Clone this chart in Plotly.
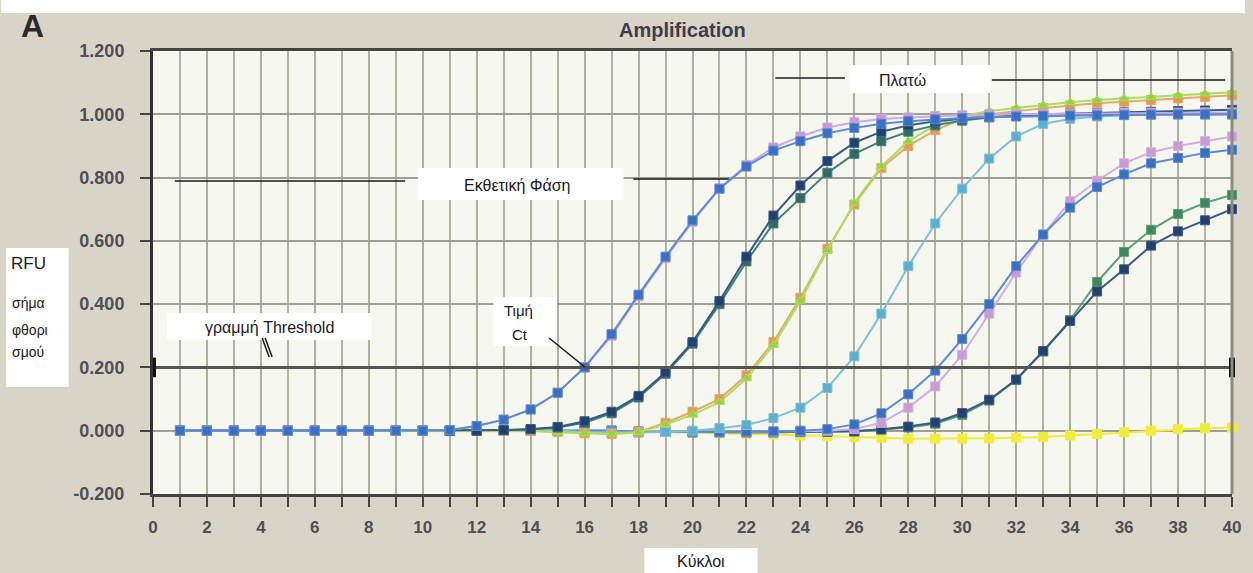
import plotly.graph_objects as go

cycles = list(range(1, 41))

blue_a = [0, 0, 0, 0, 0, 0, 0, 0, 0, 0, 0.002, 0.015, 0.035, 0.067, 0.12, 0.2, 0.305, 0.43, 0.55, 0.665,
          0.765, 0.835, 0.885, 0.915, 0.94, 0.957, 0.97, 0.978, 0.984, 0.988, 0.991, 0.993, 0.995, 0.996, 0.997,
          0.998, 0.999, 1.0, 1.0, 1.0]
pink_a = [0, 0, 0, 0, 0, 0, 0, 0, 0, 0, 0.002, 0.015, 0.035, 0.068, 0.12, 0.2, 0.3, 0.425, 0.545, 0.66,
          0.765, 0.84, 0.895, 0.93, 0.958, 0.975, 0.985, 0.99, 0.994, 0.997, 0.999, 1.0, 1.001, 1.002, 1.003,
          1.004, 1.005, 1.005, 1.006, 1.006]
navy_b = [0, 0, 0, 0, 0, 0, 0, 0, 0, 0, 0, 0, 0.002, 0.005, 0.012, 0.03, 0.06, 0.11, 0.185, 0.28,
          0.41, 0.55, 0.68, 0.775, 0.852, 0.91, 0.945, 0.965, 0.978, 0.986, 0.992, 0.996, 1.0, 1.002, 1.004,
          1.006, 1.008, 1.01, 1.012, 1.014]
teal_b = [0, 0, 0, 0, 0, 0, 0, 0, 0, 0, 0, 0, 0.002, 0.005, 0.01, 0.025, 0.055, 0.105, 0.18, 0.275,
          0.4, 0.535, 0.655, 0.735, 0.815, 0.875, 0.915, 0.945, 0.965, 0.98, 0.99, 0.995, 0.998, 1.0, 1.0,
          1.0, 1.0, 1.0, 1.0, 1.0]
lime_c = [0, 0, 0, 0, 0, 0, 0, 0, 0, 0, 0, 0, 0, 0, -0.004, -0.008, -0.01, -0.005, 0.02, 0.05,
          0.09, 0.165, 0.27, 0.41, 0.57, 0.72, 0.835, 0.915, 0.965, 0.995, 1.01, 1.02, 1.03, 1.038, 1.045,
          1.05, 1.055, 1.06, 1.065, 1.07]
orange_c = [0, 0, 0, 0, 0, 0, 0, 0, 0, 0, 0, 0, 0, 0, -0.004, -0.008, -0.01, -0.005, 0.025, 0.06,
            0.1, 0.175, 0.28, 0.42, 0.575, 0.715, 0.83, 0.9, 0.95, 0.985, 1.0, 1.01, 1.02, 1.028, 1.035,
            1.04, 1.045, 1.05, 1.055, 1.06]
cyan_d = [0, 0, 0, 0, 0, 0, 0, 0, 0, 0, 0, 0, 0, 0, 0, -0.004, -0.006, -0.006, -0.004, 0.0,
          0.008, 0.018, 0.04, 0.073, 0.135, 0.235, 0.37, 0.52, 0.655, 0.765, 0.86, 0.93, 0.97, 0.985, 0.993,
          0.997, 1.0, 1.0, 1.0, 1.0]
blue_e = [0, 0, 0, 0, 0, 0, 0, 0, 0, 0, 0, 0, 0, 0, 0, 0, 0, -0.003, -0.004, -0.004,
          -0.004, -0.003, -0.002, 0.0, 0.005, 0.02, 0.055, 0.115, 0.19, 0.29, 0.4, 0.52, 0.62, 0.705, 0.77,
          0.81, 0.845, 0.862, 0.878, 0.888]
pink_e = [0, 0, 0, 0, 0, 0, 0, 0, 0, 0, 0, 0, 0, 0, 0, 0, 0, -0.003, -0.004, -0.004,
          -0.004, -0.003, -0.003, -0.002, 0.0, 0.005, 0.025, 0.073, 0.14, 0.24, 0.37, 0.5, 0.62, 0.725, 0.79,
          0.845, 0.88, 0.9, 0.915, 0.93]
navy_f = [0, 0, 0, 0, 0, 0, 0, 0, 0, 0, 0, 0, 0, 0, 0, 0, 0, -0.003, -0.004, -0.005,
          -0.005, -0.005, -0.005, -0.004, -0.003, -0.002, 0.005, 0.013, 0.026, 0.056, 0.098, 0.162, 0.252,
          0.347, 0.44, 0.51, 0.585, 0.63, 0.665, 0.7]
green_f = [0, 0, 0, 0, 0, 0, 0, 0, 0, 0, 0, 0, 0, 0, 0, 0, 0, -0.003, -0.004, -0.005,
           -0.005, -0.005, -0.005, -0.004, -0.003, -0.002, 0.003, 0.01, 0.022, 0.05, 0.095, 0.16, 0.25,
           0.35, 0.47, 0.565, 0.635, 0.685, 0.72, 0.745]
yellow_g = [0, 0, 0, 0, 0, 0, 0, 0, 0, 0, 0, 0, 0, 0, 0, 0, 0, -0.002, -0.004, -0.005,
            -0.008, -0.01, -0.012, -0.015, -0.017, -0.02, -0.022, -0.025, -0.025, -0.025, -0.024, -0.022,
            -0.02, -0.015, -0.01, -0.005, 0.0, 0.005, 0.008, 0.01]

threshold = 0.2
y_tick_vals = [-0.2, 0.0, 0.2, 0.4, 0.6, 0.8, 1.0, 1.2]
y_tick_text = ["-0.200", "0.000", "0.200", "0.400", "0.600", "0.800", "1.000", "1.200"]
x_tick_vals = list(range(0, 41, 2))
x_tick_text = [str(v) for v in x_tick_vals]

series = [
    (yellow_g, "#f2ec3c", "#f2ec3c", "square"),
    (green_f, "#3d8a5e", "#5aa07a", "square"),
    (navy_f, "#22416f", "#3a5a86", "square"),
    (pink_e, "#c99ad6", "#d4aee0", "square"),
    (blue_e, "#3a6fc2", "#5a8cd6", "square"),
    (cyan_d, "#5eaecf", "#7cc0da", "square"),
    (orange_c, "#e39a52", "#e8a866", "square"),
    (lime_c, "#8fd63a", "#a6e060", "triangle-up"),
    (teal_b, "#2f6b62", "#44807a", "square"),
    (navy_b, "#20406f", "#365a88", "square"),
    (pink_a, "#c598d6", "#d0a8e0", "square"),
    (blue_a, "#3a6fc4", "#5a8ad8", "square"),
]

fig = go.Figure()
for vals, mcol, lcol, sym in series:
    fig.add_trace(go.Scatter(
        x=cycles, y=vals, mode="lines+markers",
        line=dict(color=lcol, width=2),
        marker=dict(color=mcol, size=9, symbol=sym, line=dict(color=lcol, width=1)),
        hoverinfo="skip", showlegend=False, cliponaxis=False,
    ))

# threshold line and end markers
fig.add_trace(go.Scatter(
    x=[0, 40], y=[threshold, threshold], mode="lines+markers",
    line=dict(color="#555555", width=3),
    marker=dict(symbol="line-ns", size=14, line=dict(color="#111111", width=6)),
    hoverinfo="skip", showlegend=False, cliponaxis=False,
))

W, H = 1253, 573
L, R, T, B = 153, 1240, 51, 494


def px(x):
    return (x - L) / (R - L)


def py(y):
    return (B - y) / (B - T)


shapes = []
# top white strip
shapes.append(dict(type="rect", xref="paper", yref="paper", x0=px(0), x1=px(W), y0=py(0), y1=py(13),
                   fillcolor="white", line=dict(width=0), layer="above"))
# right border of plot
shapes.append(dict(type="line", xref="paper", yref="paper", x0=1, x1=1, y0=0, y1=1,
                   line=dict(color="#8c8c84", width=3), layer="above"))

boxes = [
    (855, 997, 65, 93),
    (420, 627, 168, 200),
    (496, 560, 297, 346),
    (167, 373, 313, 340),
    (5, 68, 248, 387),
    (648, 762, 548, 573),
]
for x0, x1, y0, y1 in boxes:
    shapes.append(dict(type="rect", xref="paper", yref="paper", x0=px(x0), x1=px(x1), y0=py(y1), y1=py(y0),
                       fillcolor="white", line=dict(width=0), layer="above"))

lines = [
    (780, 78, 850, 78),
    (998, 80, 1233, 80),
    (175, 181, 407, 181),
    (637, 179, 733, 179),
    (263, 338, 270, 357),
    (266, 338, 273, 357),
    (552, 338, 588, 367),
]
for x0, y0, x1, y1 in lines:
    shapes.append(dict(type="line", xref="paper", yref="paper", x0=px(x0), x1=px(x1), y0=py(y0), y1=py(y1),
                       line=dict(color="#1a1a1a", width=1.5), layer="above"))

font = "Liberation Sans, Arial, sans-serif"
anns = []


def add_text(text, x, y, size, color="#1a1a1a", bold=False, xanchor="center"):
    anns.append(dict(text=text, xref="paper", yref="paper", x=px(x), y=py(y), showarrow=False,
                     xanchor=xanchor, yanchor="middle",
                     font=dict(family=font, size=size, color=color, weight="bold" if bold else "normal")))


add_text("A", 32, 26, 32, "#2b2b2b", True)
add_text("Amplification", 686, 30, 20, "#3d3d4e", True)
add_text("Πλατώ", 908, 80, 16)
add_text("Εκθετική Φάση", 520, 185, 16)
add_text("Τιμή", 521, 310, 15)
add_text("Ct", 523, 334, 15)
add_text("γραμμή Threshold", 270, 327, 16)
add_text("RFU", 8, 263, 17, xanchor="left")
add_text("σήμα", 9, 303, 14, xanchor="left")
add_text("φθορι", 9, 330, 14, xanchor="left")
add_text("σμού", 9, 352, 14, xanchor="left")
add_text("Κύκλοι", 705, 561, 16)

fig.update_layout(
    width=W, height=H,
    margin=dict(l=L, r=W - R, t=T, b=H - B, pad=0),
    paper_bgcolor="#d8d5c8",
    plot_bgcolor="#f6f7ef",
    shapes=shapes,
    annotations=anns,
    showlegend=False,
)

fig.update_xaxes(
    range=[0, 40], tickvals=x_tick_vals, ticktext=x_tick_text,
    showgrid=True, gridcolor="#aab09a", gridwidth=1.5,
    minor=dict(dtick=1, showgrid=True, gridcolor="#b0b4a0", gridwidth=1.5,
               ticks="outside", ticklen=10, tickcolor="#444444", tickwidth=2),
    ticks="outside", ticklen=10, tickcolor="#444444", tickwidth=2,
    showline=True, linecolor="#444444", linewidth=2.5, mirror=True,
    zeroline=False, ticklabelstandoff=6,
    tickfont=dict(family=font, size=17, color="#4e4e58", weight="bold"),
)
fig.update_yaxes(
    range=[-0.2, 1.2], tickvals=y_tick_vals, ticktext=y_tick_text,
    showgrid=True, gridcolor="#9e9e96", gridwidth=1.5,
    ticks="outside", ticklen=10, tickcolor="#444444", tickwidth=2,
    showline=True, linecolor="#333333", linewidth=3,
    zeroline=False, ticklabelstandoff=12,
    tickfont=dict(family=font, size=18, color="#4e4e58", weight="bold"),
)

fig.write_html("out.html", config={"displayModeBar": False},
               post_script="document.body.style.margin='0';document.body.style.overflow='hidden';")
